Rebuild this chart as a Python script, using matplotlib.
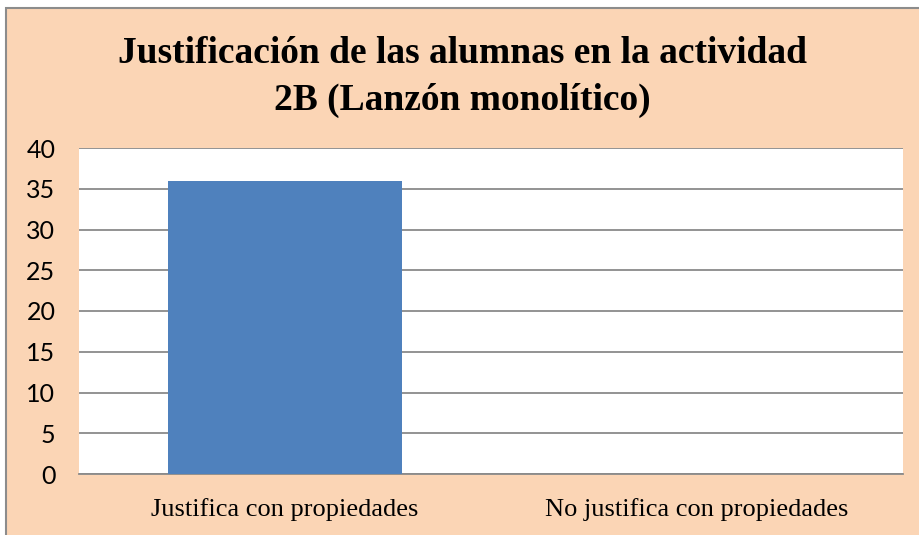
import matplotlib
matplotlib.use("Agg")
import matplotlib.pyplot as plt
from matplotlib.patches import Rectangle

categories = ["Justifica con propiedades", "No justifica con propiedades"]
values = [36, 0]
yticks = [0, 5, 10, 15, 20, 25, 30, 35, 40]
title = "Justificación de las alumnas en la actividad\n2B (Lanzón monolítico)"

W, H = 919, 535
fig = plt.figure(figsize=(W / 100, H / 100), dpi=100)
fig.patch.set_facecolor("white")

# chart area with its frame (left and top edges visible)
x0, y0 = 5.5 / W, 1 - 7.5 / H
fig.patches.append(Rectangle((x0, -0.05), 1.2, y0 + 0.05, transform=fig.transFigure,
                             facecolor="#FBD5B5", edgecolor="#8C8C8C", linewidth=1.5,
                             zorder=-10))

ax = fig.add_axes([79 / W, 1 - 474 / H, (903 - 79) / W, (474 - 148) / H])
ax.set_facecolor("white")
ax.bar(range(len(categories)), values, width=0.57, color="#4F81BD", zorder=3)
ax.set_xlim(-0.5, len(categories) - 0.5)
ax.set_ylim(0, 40)
ax.set_yticks(yticks)
ax.set_yticklabels([str(v) for v in yticks], fontsize=18, family="Lato")
ax.set_xticks(range(len(categories)))
ax.set_xticklabels(categories, fontsize=19, family="Liberation Serif")
ax.tick_params(axis="both", length=0, colors="black")
ax.tick_params(axis="y", pad=17)
ax.tick_params(axis="x", pad=17)
ax.grid(axis="y", color="#8A8A8A", linewidth=1.3, zorder=1)
for s in ["left", "right", "top"]:
    ax.spines[s].set_visible(False)
ax.spines["bottom"].set_color("#8A8A8A")
ax.spines["bottom"].set_linewidth(1.3)

fig.text(0.5 * (5.5 / W + 1), 1 - 77 / H, title, ha="center", va="center",
         fontsize=27, fontweight="bold", family="Liberation Serif", linespacing=1.45)

fig.savefig("out.png", dpi=100)
